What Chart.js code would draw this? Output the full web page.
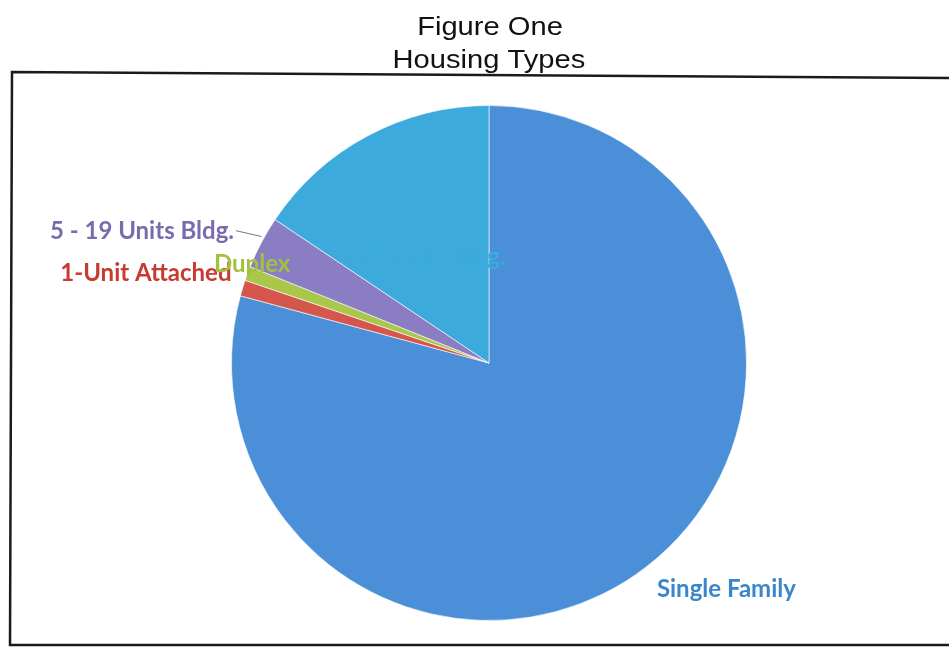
<!DOCTYPE html>
<html>
<head>
<meta charset="utf-8">
<title>Housing Types</title>
<script src="https://cdn.jsdelivr.net/npm/chart.js@4.4.1/dist/chart.umd.min.js"></script>
<style>
  html, body { margin: 0; padding: 0; background: #fff; }
  #wrap { width: 949px; height: 648px; }
</style>
</head>
<body>
<div id="wrap"><canvas id="pieChart" width="949" height="648"></canvas></div>
<script>
// ========================================
// Data
// ========================================
const titleLines = ['Figure One', 'Housing Types'];
const categories = ['Single Family', '1-Unit Attached', 'Duplex', '5 - 19 Units Bldg.', '20+ Units Bldg.'];
const shares = [79.2, 1.0, 0.9, 3.3, 15.6];   // percent

const sliceColors = ['#4a8fd8', '#d5564b', '#a9c84b', '#8b7dc3', '#3caadc'];
const labelColors = ['#3a86cd', '#c93a30', '#a2c23f', '#7a6aae', '#3caadc'];

// label placement relative to the pie centre, in units of the radius
const labelPos = [
    { fx: 0.652, fy: 0.88, align: 'left' },
    { fx: -1.0, fy: -0.35, align: 'right' },
    { fx: -0.92, fy: -0.385, align: 'center' },
    { fx: -0.99, fy: -0.51, align: 'right', leader: true },
    { fx: 0.065, fy: -0.41, align: 'right' }
];

// ========================================
// Plugin: frame, title and slice labels
// ========================================
const decorPlugin = {
    id: 'decor',
    beforeDraw(chart) {
        const ctx = chart.ctx;
        ctx.save();
        // frame around the chart
        ctx.strokeStyle = '#1a1a1a';
        ctx.lineWidth = 2.5;
        ctx.beginPath();
        ctx.moveTo(955, 78);
        ctx.lineTo(12, 72);
        ctx.lineTo(10, 645);
        ctx.lineTo(955, 645);
        ctx.stroke();

        // title above the frame (scan is a bit stretched sideways)
        ctx.fillStyle = '#111';
        ctx.font = '26px "Liberation Sans", Arial, sans-serif';
        ctx.textAlign = 'center';
        ctx.textBaseline = 'middle';
        ctx.translate(490, 0);
        ctx.scale(1.12, 1);
        ctx.fillText(titleLines[0], 0, 28);
        ctx.fillText(titleLines[1], -1, 61);
        ctx.restore();
    },
    afterDraw(chart) {
        const ctx = chart.ctx;
        const arcs = chart.getDatasetMeta(0).data;
        if (!arcs.length) return;
        const cx = arcs[0].x, cy = arcs[0].y, r = arcs[0].outerRadius;
        ctx.save();
        ctx.font = 'bold 24px Lato, "Open Sans", sans-serif';
        ctx.textBaseline = 'middle';
        categories.forEach((name, i) => {
            const p = labelPos[i];
            const x = cx + p.fx * r;
            const y = cy + p.fy * r;
            if (p.leader) {
                // leader line from label end to the slice edge
                const a = arcs[i];
                const mid = (a.startAngle + a.endAngle) / 2;
                ctx.strokeStyle = '#777';
                ctx.lineWidth = 1;
                ctx.beginPath();
                ctx.moveTo(x + 2, y - 1);
                ctx.lineTo(cx + Math.cos(mid) * r * 1.0, cy + Math.sin(mid) * r * 1.0 - 6);
                ctx.stroke();
            }
            ctx.fillStyle = labelColors[i];
            ctx.textAlign = p.align;
            ctx.fillText(name, x, y);
        });
        ctx.restore();
    }
};

// ========================================
// Chart
// ========================================
const ctx = document.getElementById('pieChart').getContext('2d');
const pieChart = new Chart(ctx, {
    type: 'pie',
    data: {
        labels: categories,
        datasets: [{
            data: shares,
            backgroundColor: sliceColors,
            borderColor: 'rgba(255,255,255,0.6)',
            borderWidth: 1,
            hoverOffset: 0
        }]
    },
    options: {
        responsive: false,
        animation: false,
        layout: {
            padding: { left: 231, right: 202, top: 105, bottom: 27 }
        },
        plugins: {
            legend: { display: false },
            title: { display: false },
            tooltip: { enabled: false }
        }
    },
    plugins: [decorPlugin]
});
</script>
</body>
</html>
